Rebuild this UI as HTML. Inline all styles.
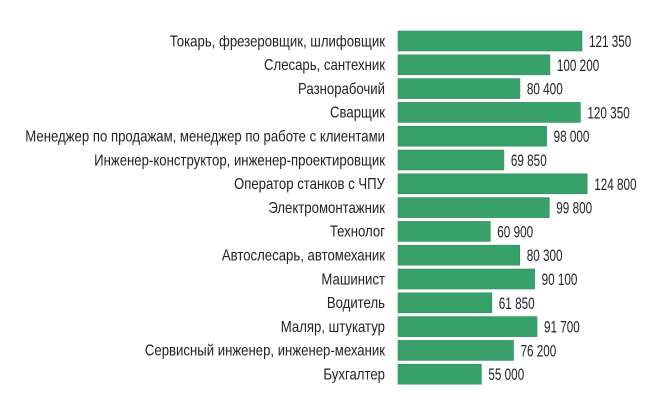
<!DOCTYPE html>
<html><head><meta charset="utf-8"><style>body{margin:0;background:#fff}svg{display:block}</style></head>
<body>
<svg width="652" height="411" xmlns="http://www.w3.org/2000/svg" font-family="Liberation Sans, sans-serif" font-size="15.5" fill="#222">
<g fill="#38a169" stroke="#2f8f5b" stroke-width="0.6">
<rect x="398" y="31" width="184.0" height="20"/>
<rect x="398" y="54.8" width="151.9" height="20"/>
<rect x="398" y="78.6" width="121.9" height="20"/>
<rect x="398" y="102.4" width="182.4" height="20"/>
<rect x="398" y="126.2" width="148.6" height="20"/>
<rect x="398" y="150" width="105.9" height="20"/>
<rect x="398" y="173.8" width="189.2" height="20"/>
<rect x="398" y="197.6" width="151.3" height="20"/>
<rect x="398" y="221.4" width="92.3" height="20"/>
<rect x="398" y="245.2" width="121.7" height="20"/>
<rect x="398" y="269" width="136.6" height="20"/>
<rect x="398" y="292.8" width="93.8" height="20"/>
<rect x="398" y="316.6" width="139.0" height="20"/>
<rect x="398" y="340.4" width="115.5" height="20"/>
<rect x="398" y="364.2" width="83.4" height="20"/>
</g>
<g text-anchor="end">
<text transform="translate(385,46.3) scale(0.85,1)">Токарь, фрезеровщик, шлифовщик</text>
<text transform="translate(385,70.1) scale(0.85,1)">Слесарь, сантехник</text>
<text transform="translate(385,93.9) scale(0.85,1)">Разнорабочий</text>
<text transform="translate(385,117.7) scale(0.85,1)">Сварщик</text>
<text transform="translate(385,141.5) scale(0.85,1)">Менеджер по продажам, менеджер по работе с клиентами</text>
<text transform="translate(385,165.3) scale(0.85,1)">Инженер-конструктор, инженер-проектировщик</text>
<text transform="translate(385,189.1) scale(0.85,1)">Оператор станков с ЧПУ</text>
<text transform="translate(385,212.9) scale(0.85,1)">Электромонтажник</text>
<text transform="translate(385,236.7) scale(0.85,1)">Технолог</text>
<text transform="translate(385,260.5) scale(0.85,1)">Автослесарь, автомеханик</text>
<text transform="translate(385,284.3) scale(0.85,1)">Машинист</text>
<text transform="translate(385,308.1) scale(0.85,1)">Водитель</text>
<text transform="translate(385,331.9) scale(0.85,1)">Маляр, штукатур</text>
<text transform="translate(385,355.7) scale(0.85,1)">Сервисный инженер, инженер-механик</text>
<text transform="translate(385,379.5) scale(0.85,1)">Бухгалтер</text>
</g>
<g font-size="16.5">
<text transform="translate(589.0,47) scale(0.71,1)">121 350</text>
<text transform="translate(556.9,70.8) scale(0.71,1)">100 200</text>
<text transform="translate(526.9,94.6) scale(0.71,1)">80 400</text>
<text transform="translate(587.4,118.4) scale(0.71,1)">120 350</text>
<text transform="translate(553.6,142.2) scale(0.71,1)">98 000</text>
<text transform="translate(510.9,166) scale(0.71,1)">69 850</text>
<text transform="translate(594.2,189.8) scale(0.71,1)">124 800</text>
<text transform="translate(556.3,213.6) scale(0.71,1)">99 800</text>
<text transform="translate(497.3,237.4) scale(0.71,1)">60 900</text>
<text transform="translate(526.7,261.2) scale(0.71,1)">80 300</text>
<text transform="translate(541.6,285) scale(0.71,1)">90 100</text>
<text transform="translate(498.8,308.8) scale(0.71,1)">61 850</text>
<text transform="translate(544.0,332.6) scale(0.71,1)">91 700</text>
<text transform="translate(520.5,356.4) scale(0.71,1)">76 200</text>
<text transform="translate(488.4,380.2) scale(0.71,1)">55 000</text>
</g>
</svg>
</body></html>
